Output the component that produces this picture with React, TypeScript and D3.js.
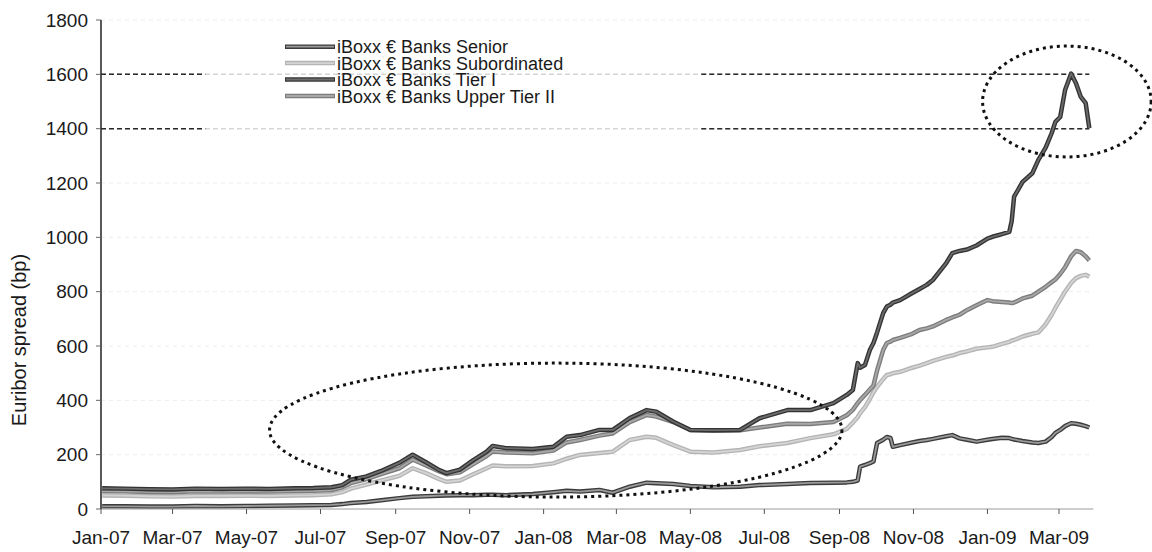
import React from 'react';
import * as d3 from 'd3';

// Observation dates shared by all four index series
const dates = [
  '2007-01-02','2007-01-20','2007-02-10','2007-03-01','2007-03-20','2007-04-10','2007-05-01','2007-05-20',
  '2007-06-10','2007-06-25','2007-07-10','2007-07-19','2007-07-26','2007-08-08','2007-08-20','2007-09-04',
  '2007-09-15','2007-09-26','2007-10-07','2007-10-13','2007-10-24','2007-11-04','2007-11-15','2007-11-20',
  '2007-12-01','2007-12-23','2008-01-09','2008-01-20','2008-01-31','2008-02-16','2008-02-27','2008-03-12',
  '2008-03-26','2008-04-03','2008-04-17','2008-05-01','2008-05-20','2008-06-11','2008-06-27','2008-07-20',
  '2008-08-08','2008-08-27','2008-09-07','2008-09-12','2008-09-16','2008-09-18','2008-09-22','2008-09-26',
  '2008-09-29','2008-10-02','2008-10-07','2008-10-10','2008-10-13','2008-10-15','2008-10-21','2008-10-31',
  '2008-11-06','2008-11-12','2008-11-17','2008-11-28','2008-12-03','2008-12-09','2008-12-15','2008-12-23',
  '2009-01-01','2009-01-05','2009-01-13','2009-01-19','2009-01-21','2009-01-23','2009-01-30','2009-02-07',
  '2009-02-12','2009-02-18','2009-02-23','2009-02-26','2009-03-02','2009-03-06','2009-03-11','2009-03-15',
  '2009-03-19','2009-03-23','2009-03-26',
];

// Spread over Euribor, basis points
const tierI = [
  76,75,73,72,75,74,75,74, 76,77,80,88,108,120,140,170,
  200,172,143,132,145,180,211,232, 224,221,229,266,272,291,291,335,
  364,358,321,291,290,291,334,364, 364,390,420,438,537,520,530,585,
  611,650,721,745,752,760,769,795, 810,825,843,905,942,950,955,970,
  995,1002,1012,1020,1060,1150,1204,1236, 1285,1330,1384,1425,1443,1542,1603,1567,
  1517,1494,1402,
];
const upperTierII = [
  66,65,63,62,65,64,65,64, 66,67,70,80,95,110,128,150,
  182,160,138,128,135,165,195,212, 208,205,215,245,254,270,278,320,
  346,340,320,291,288,290,300,314, 313,320,345,365,390,401,420,440,
  455,510,585,611,616,622,630,645, 659,665,672,696,705,715,732,750,
  769,765,762,760,758,760,775,785, 800,818,835,845,865,890,930,950,
  945,930,915,
];
const subordinated = [
  50,49,47,46,48,48,49,48, 50,51,54,62,75,90,105,122,
  150,132,110,100,105,128,150,160, 157,158,168,185,199,206,211,254,
  266,262,235,211,208,217,231,243, 261,275,295,318,338,353,375,405,
  430,450,478,493,496,500,505,520, 528,537,545,560,565,574,580,590,
  595,597,608,615,620,622,635,645, 650,680,715,740,770,800,832,850,
  858,862,855,
];
const senior = [
  10,10,9,9,11,10,11,12, 13,14,15,18,22,26,32,40,
  45,47,49,50,51,51,52,52, 51,55,62,67,64,70,60,82,
  97,95,92,85,80,82,88,92, 96,97,98,100,105,156,162,169,
  175,243,255,265,262,229,235,245, 250,254,258,268,272,260,255,248,
  255,258,262,261,258,256,250,245, 243,248,265,280,291,305,316,314,
  310,305,300,
];

const seriesLabels = [
  'iBoxx € Banks Senior',
  'iBoxx € Banks Subordinated',
  'iBoxx € Banks Tier I',
  'iBoxx € Banks Upper Tier II',
];

const yTicks = [0, 200, 400, 600, 800, 1000, 1200, 1400, 1600, 1800];
const markedLevels = [1600, 1400];
const yTitle = 'Euribor spread (bp)';

// Dotted ellipses: [left date, right date, bottom value, top value]
const ellipses: [string, string, number, number][] = [
  ['2007-05-20', '2008-09-03', 44, 537],
  ['2008-12-28', '2009-05-16', 1296, 1704],
];

const FONT = "'Liberation Sans', Arial, Helvetica, sans-serif";

const styles = [
  { outer: '#3b3b3b', inner: '#9a9a9a' }, // Senior
  { outer: '#b4b4b4', inner: '#d4d4d4' }, // Subordinated
  { outer: '#333333', inner: '#6c6c6c' }, // Tier I
  { outer: '#7c7c7c', inner: '#a8a8a8' }, // Upper Tier II
];

export default function App() {
  const parse = d3.utcParse('%Y-%m-%d');
  const t = dates.map((d) => parse(d) as Date);
  const start = parse('2007-01-01') as Date;
  const x = d3.scaleUtc().domain([start, parse('2009-03-01') as Date]).range([101, 1059]);
  const y = d3.scaleLinear().domain([0, 1800]).range([509, 20]);
  const xTicks = d3.utcMonth.every(2)!.range(start, parse('2009-03-02') as Date);
  const fmt = d3.utcFormat('%b-%y');

  const series = [senior, subordinated, tierI, upperTierII];
  const line = d3
    .line<number>()
    .x((_, i) => x(t[i]))
    .y((v) => y(v));

  const drawOrder = [1, 3, 0, 2];
  const x0 = x(start);
  const xEnd = x(t[t.length - 1]);
  const gridRight = xEnd + 4;

  const fadeFrom = x(parse('2007-03-28') as Date);
  const fadeTo = x(parse('2008-05-10') as Date);

  const legendRows = [46.7, 63.1, 79.5, 96];

  return (
    <svg
      width={1152}
      height={552}
      style={{ position: 'absolute', left: 0, top: 0, background: '#fff' }}
      fontFamily={FONT}
    >
      <rect width={1152} height={552} fill="#fff" />

      {/* faint horizontal gridlines */}
      {yTicks
        .filter((v) => v > 0)
        .map((v) => (
          <line
            key={'g' + v}
            x1={x0}
            x2={gridRight}
            y1={y(v)}
            y2={y(v)}
            stroke="#ececec"
            strokeWidth={1}
            strokeDasharray="4 4"
          />
        ))}

      {/* reference levels */}
      {markedLevels.map((v) => (
        <g key={'m' + v}>
          <line x1={x0} x2={xEnd} y1={y(v)} y2={y(v)} stroke="#d6d6d6" strokeWidth={1.5} strokeDasharray="5 3" />
          <line x1={x0} x2={fadeFrom} y1={y(v)} y2={y(v)} stroke="#2a2a2a" strokeWidth={1.5} strokeDasharray="5 3" />
          <line x1={fadeTo} x2={xEnd} y1={y(v)} y2={y(v)} stroke="#2a2a2a" strokeWidth={1.5} strokeDasharray="5 3" />
        </g>
      ))}

      {/* series */}
      {drawOrder.map((si) => (
        <g key={'s' + si}>
          <path d={line(series[si]) || ''} fill="none" stroke={styles[si].outer} strokeWidth={4.5} strokeLinejoin="round" />
          <path d={line(series[si]) || ''} fill="none" stroke={styles[si].inner} strokeWidth={1.8} strokeLinejoin="round" />
        </g>
      ))}

      {/* dotted ellipses */}
      {ellipses.map(([a, b, lo, hi], i) => {
        const xa = x(parse(a) as Date);
        const xb = x(parse(b) as Date);
        const ya = y(hi);
        const yb = y(lo);
        return (
          <ellipse
            key={'e' + i}
            cx={(xa + xb) / 2}
            cy={(ya + yb) / 2}
            rx={(xb - xa) / 2}
            ry={(yb - ya) / 2}
            fill="none"
            stroke="#111"
            strokeWidth={3}
            strokeDasharray="3 4"
          />
        );
      })}

      {/* x axis */}
      <line x1={x0} x2={gridRight} y1={y(0)} y2={y(0)} stroke="#9a9a9a" strokeWidth={1} />
      {xTicks.map((d) => (
        <g key={'xt' + d.toISOString()}>
          <line x1={x(d)} x2={x(d)} y1={y(0)} y2={y(0) + 5} stroke="#555" strokeWidth={1} />
          <text x={x(d)} y={544} textAnchor="middle" fontSize={19} fill="#1a1a1a">
            {fmt(d)}
          </text>
        </g>
      ))}

      {/* y axis */}
      <line x1={x0} x2={x0} y1={y(1800)} y2={y(0)} stroke="#222" strokeWidth={1.5} />
      {yTicks.map((v) => (
        <g key={'yt' + v}>
          <line x1={x0 - 5} x2={x0} y1={y(v)} y2={y(v)} stroke="#666" strokeWidth={1} />
          <text x={88} y={y(v) + 6.8} textAnchor="end" fontSize={19} fill="#1a1a1a">
            {v}
          </text>
        </g>
      ))}
      <text
        transform={`translate(26,340) rotate(-90)`}
        textAnchor="middle"
        fontSize={20}
        fill="#1a1a1a"
      >
        {yTitle}
      </text>

      {/* legend */}
      {seriesLabels.map((label, i) => (
        <g key={'l' + i}>
          <line x1={285} x2={335} y1={legendRows[i]} y2={legendRows[i]} stroke={styles[i].outer} strokeWidth={4.5} />
          <line x1={286} x2={334} y1={legendRows[i]} y2={legendRows[i]} stroke={styles[i].inner} strokeWidth={1.8} />
          <text x={337} y={legendRows[i] + 6.5} fontSize={18} fill="#1a1a1a">
            {label}
          </text>
        </g>
      ))}
    </svg>
  );
}
